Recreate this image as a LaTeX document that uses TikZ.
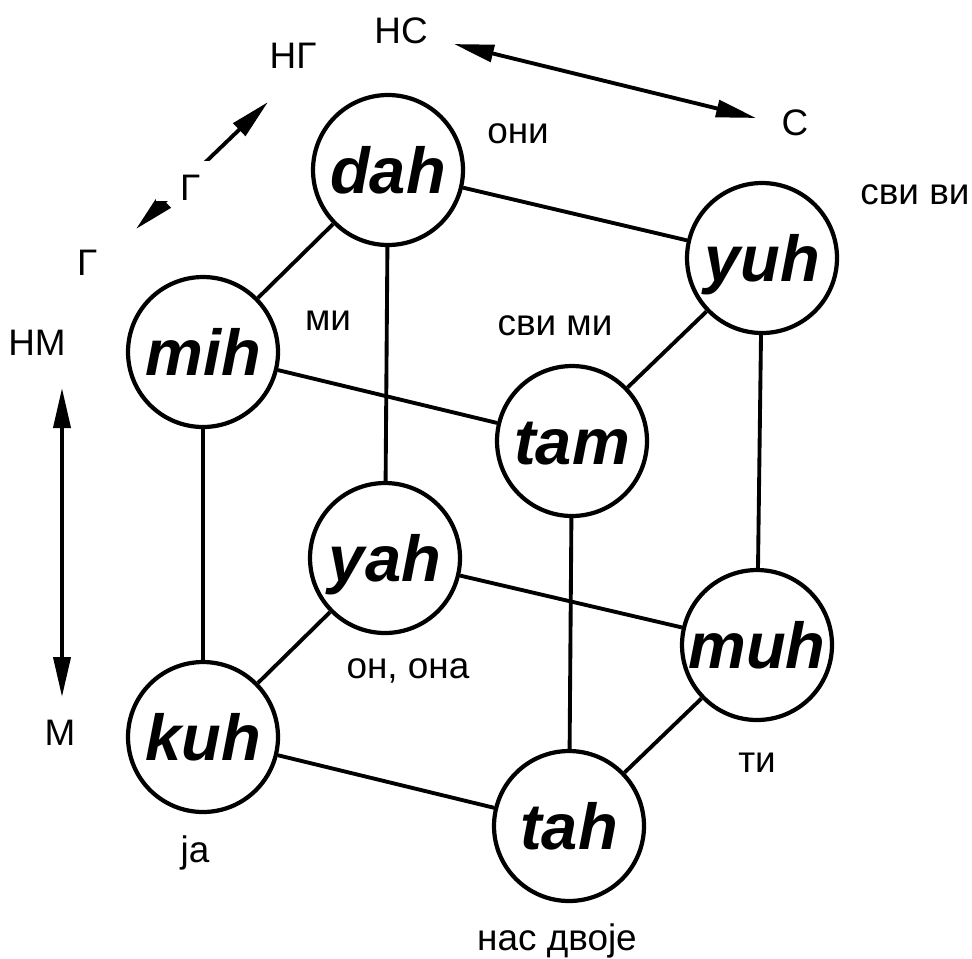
\documentclass[tikz,border=0pt]{standalone}
\usepackage{fontspec}
\setmainfont{Liberation Sans}
\usetikzlibrary{arrows.meta}

\begin{document}
\begin{tikzpicture}[x=0.02cm, y=-0.02cm,
    word/.style={circle, draw, line width=2.4pt, minimum size=3cm, inner sep=0pt,
        font=\fontsize{37}{40}\selectfont\bfseries\itshape, text height=26.6pt, text depth=0pt},
    lbl/.style={anchor=base, inner sep=0pt, font=\fontsize{21}{24}\selectfont},
    edge/.style={line width=2.2pt},
    dir/.style={line width=2.2pt, {Triangle[length=0.8cm,width=0.34cm]}-{Triangle[length=0.8cm,width=0.34cm]}}]
    \useasboundingbox (0,0) rectangle (972,958);

    % Cube corners
    \node[word] (dah) at (388,170) {dah};
    \node[word] (yuh) at (762,258) {yuh};
    \node[word] (mih) at (203,352) {mih};
    \node[word] (tam) at (572,441) {tam};
    \node[word] (yah) at (385,558) {yah};
    \node[word] (muh) at (757,645) {muh};
    \node[word] (kuh) at (203,737) {kuh};
    \node[word] (tah) at (569,826) {tah};

    % Cube edges
    \foreach \a/\b in {dah/yuh, dah/mih, dah/yah, mih/tam, mih/kuh, yuh/tam,
        yuh/muh, tam/tah, yah/kuh, yah/muh, kuh/tah, muh/tah}
        \draw[edge] (\a) -- (\b);

    % Pronoun labels
    \node[lbl] (oni) at (518,143) {они};
    \node[lbl] (sviVi) at (915,204) {сви ви};
    \node[lbl] (mi) at (328,330) {ми};
    \node[lbl] (sviMi) at (555,335) {сви ми};
    \node[lbl] (onOna) at (408,678) {он, она};
    \node[lbl] (ti) at (757,772) {ти};
    \node[lbl] (ja) at (195,862) {ја};
    \node[lbl] (nasDvoje) at (557,950) {нас двоје};

    % Axis arrows
    \coordinate (nsTip) at (454,44);
    \coordinate (sTip) at (756,118);
    \draw[dir] (nsTip) -- (sTip);
    \node[lbl] (ns) at (401,43) {НС};
    \node[lbl] (s) at (795,135) {С};

    \coordinate (ngTip) at (268,102);
    \coordinate (gTip) at (136,229);
    \draw[dir] (gTip) -- (ngTip);
    \fill[white] (156,161) rectangle (214,201); % gap for label
    \node[lbl] (ng) at (293,68) {НГ};
    \node[lbl] (gMid) at (190,200) {Г};
    \node[lbl] (g) at (87,275) {Г};

    \coordinate (nmTip) at (62,388);
    \coordinate (mTip) at (62,697);
    \draw[dir] (nmTip) -- (mTip);
    \node[lbl] (nm) at (37,355) {НМ};
    \node[lbl] (m) at (60,745) {М};

\end{tikzpicture}
\end{document}
